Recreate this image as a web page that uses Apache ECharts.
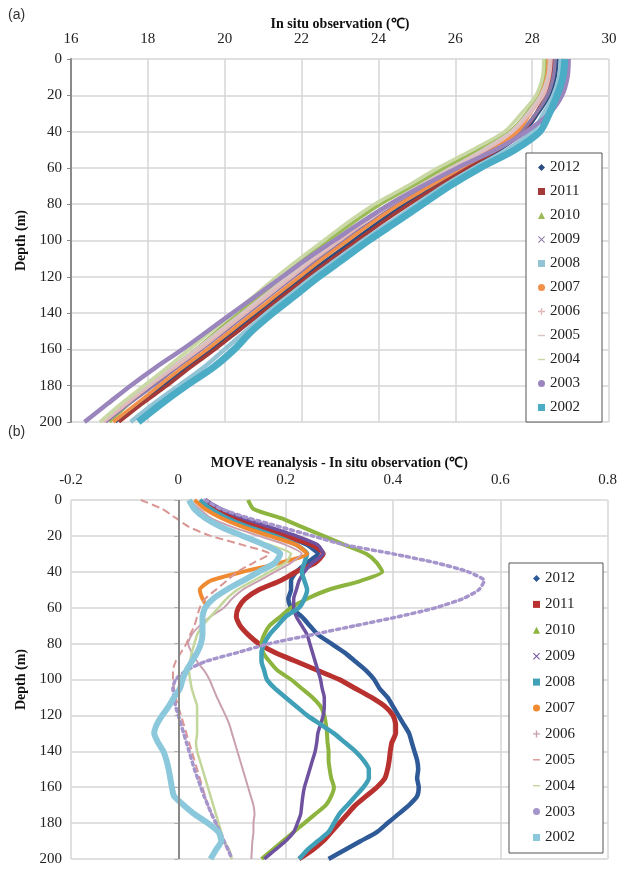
<!DOCTYPE html>
<html>
<head>
<meta charset="utf-8">
<script src="https://cdn.jsdelivr.net/npm/echarts@6/dist/echarts.min.js"></script>
<style>
  html, body { margin: 0; padding: 0; background: #fff; }
  #main { width: 620px; height: 869px; }
</style>
</head>
<body>
<div id="main"></div>
<script>
// years, in legend order
var years = ['2012', '2011', '2010', '2009', '2008', '2007', '2006', '2005', '2004', '2003', '2002'];

// (a) in situ temperature, depth 0..200 every 10 m
var depthA = [0, 10, 20, 30, 40, 50, 60, 70, 80, 90, 100, 110, 120, 130, 140, 150, 160, 170, 180, 190, 200];
var a2012 = [28.65, 28.6, 28.45, 28.15, 27.8, 27.15, 26.3, 25.5, 24.7, 24.0, 23.35, 22.7, 22.05, 21.45, 20.85, 20.25, 19.65, 19.0, 18.4, 17.75, 17.15];
var a2011 = [28.55, 28.5, 28.35, 28.1, 27.75, 27.1, 26.3, 25.55, 24.8, 24.1, 23.45, 22.8, 22.15, 21.55, 20.95, 20.35, 19.75, 19.1, 18.5, 17.85, 17.25];
var a2010 = [28.35, 28.3, 28.15, 27.85, 27.42, 26.62, 25.72, 24.9, 24.05, 23.35, 22.7, 22.05, 21.5, 20.95, 20.38, 19.8, 19.25, 18.65, 18.05, 17.5, 17.0];
var a2009 = [28.6, 28.55, 28.4, 28.1, 27.7, 26.95, 26.1, 25.3, 24.5, 23.8, 23.1, 22.45, 21.8, 21.2, 20.6, 20.0, 19.4, 18.75, 18.15, 17.5, 16.9];
var a2008 = [28.75, 28.7, 28.55, 28.3, 28.0, 27.35, 26.5, 25.7, 25.0, 24.3, 23.6, 22.95, 22.3, 21.7, 21.1, 20.55, 20.0, 19.45, 18.8, 18.15, 17.55];
var a2007 = [28.42, 28.38, 28.22, 27.95, 27.62, 26.98, 26.15, 25.35, 24.55, 23.85, 23.2, 22.55, 21.95, 21.35, 20.75, 20.15, 19.55, 18.9, 18.3, 17.7, 17.1];
var a2006 = [28.5, 28.45, 28.3, 27.95, 27.5, 26.8, 25.95, 25.15, 24.35, 23.65, 23.0, 22.35, 21.75, 21.15, 20.55, 19.95, 19.35, 18.7, 18.05, 17.45, 16.85];
var a2005 = [28.45, 28.4, 28.22, 27.88, 27.45, 26.72, 25.88, 25.05, 24.25, 23.55, 22.9, 22.25, 21.65, 21.05, 20.45, 19.85, 19.25, 18.6, 17.98, 17.35, 16.8];
var a2004 = [28.3, 28.27, 28.1, 27.72, 27.28, 26.45, 25.55, 24.75, 23.9, 23.2, 22.58, 21.95, 21.35, 20.8, 20.22, 19.65, 19.08, 18.5, 17.9, 17.3, 16.75];
var a2003 = [28.95, 28.92, 28.78, 28.45, 27.85, 27.05, 26.05, 25.15, 24.3, 23.55, 22.85, 22.15, 21.5, 20.85, 20.2, 19.55, 18.9, 18.2, 17.55, 16.95, 16.35];
var a2002 = [28.85, 28.8, 28.65, 28.45, 28.2, 27.55, 26.65, 25.85, 25.15, 24.45, 23.75, 23.1, 22.45, 21.85, 21.25, 20.7, 20.25, 19.7, 19.0, 18.35, 17.75];

// (b) MOVE - in situ, depth 0..200 every 5 m
var depthB = [0, 5, 10, 15, 20, 25, 30, 35, 40, 45, 50, 55, 60, 65, 70, 75, 80, 85, 90, 95, 100,
  105, 110, 115, 120, 125, 130, 135, 140, 145, 150, 155, 160, 165, 170, 175, 180, 185, 190, 195, 200];
var b2012 = [0.05, 0.07, 0.11, 0.16, 0.2, 0.24, 0.26, 0.24, 0.22, 0.21, 0.21, 0.205, 0.21, 0.23, 0.245, 0.26, 0.285, 0.31, 0.33, 0.35, 0.365,
  0.375, 0.39, 0.4, 0.41, 0.42, 0.43, 0.435, 0.44, 0.445, 0.447, 0.445, 0.448, 0.445, 0.43, 0.41, 0.39, 0.37, 0.34, 0.31, 0.28];
var b2011 = [0.05, 0.07, 0.1, 0.15, 0.2, 0.25, 0.27, 0.255, 0.22, 0.19, 0.15, 0.125, 0.112, 0.108, 0.115, 0.13, 0.15, 0.18, 0.22, 0.26, 0.3,
  0.33, 0.36, 0.385, 0.4, 0.405, 0.405, 0.398, 0.395, 0.393, 0.39, 0.385, 0.37, 0.35, 0.33, 0.315, 0.3, 0.285, 0.27, 0.25, 0.225];
var b2010 = [0.13, 0.14, 0.19, 0.23, 0.27, 0.31, 0.35, 0.37, 0.38, 0.34, 0.28, 0.24, 0.21, 0.19, 0.17, 0.16, 0.155, 0.158, 0.17, 0.185, 0.21,
  0.23, 0.25, 0.265, 0.272, 0.275, 0.277, 0.278, 0.28, 0.28, 0.282, 0.285, 0.29, 0.285, 0.275, 0.255, 0.235, 0.215, 0.195, 0.175, 0.155];
var b2009 = [0.05, 0.08, 0.12, 0.17, 0.22, 0.26, 0.27, 0.25, 0.235, 0.225, 0.22, 0.215, 0.215, 0.22, 0.23, 0.24, 0.245, 0.25, 0.255, 0.26, 0.265,
  0.268, 0.272, 0.272, 0.27, 0.265, 0.26, 0.258, 0.255, 0.25, 0.245, 0.24, 0.235, 0.232, 0.23, 0.228, 0.222, 0.215, 0.2, 0.18, 0.16];
var b2008 = [0.04, 0.06, 0.09, 0.13, 0.18, 0.22, 0.24, 0.235, 0.23, 0.235, 0.24, 0.235, 0.225, 0.2, 0.185, 0.17, 0.16, 0.155, 0.155, 0.16, 0.165,
  0.18, 0.2, 0.22, 0.24, 0.265, 0.29, 0.31, 0.33, 0.345, 0.355, 0.355, 0.345, 0.33, 0.315, 0.3, 0.29, 0.28, 0.26, 0.24, 0.225];
var b2007 = [0.03, 0.05, 0.08, 0.12, 0.17, 0.22, 0.24, 0.19, 0.12, 0.06, 0.04, 0.045, 0.055];
var b2006 = [0.02, 0.04, 0.06, 0.1, 0.15, 0.2, 0.23, 0.21, 0.18, 0.15, 0.12, 0.1, 0.085, 0.06, 0.04, 0.025, 0.018, 0.025, 0.035, 0.048, 0.058,
  0.065, 0.072, 0.08, 0.088, 0.095, 0.1, 0.105, 0.11, 0.115, 0.12, 0.125, 0.13, 0.135, 0.14, 0.142, 0.14, 0.14, 0.138, 0.137, 0.136];
var b2005 = [-0.07, -0.03, -0.005, 0.02, 0.06, 0.12, 0.17, 0.14, 0.11, 0.09, 0.07, 0.05, 0.04, 0.035, 0.03, 0.022, 0.015, 0.005, -0.005, -0.01, -0.01,
  -0.008, -0.005, 0.0, 0.005, 0.01, 0.015, 0.02, 0.025, 0.03, 0.035, 0.04, 0.045, 0.05, 0.055, 0.062, 0.07, 0.078, 0.085, 0.092, 0.1];
var b2004 = [0.02, 0.03, 0.05, 0.08, 0.12, 0.17, 0.21, 0.2, 0.17, 0.14, 0.11, 0.09, 0.075, 0.06, 0.045, 0.035, 0.03, 0.025, 0.022, 0.02, 0.022,
  0.025, 0.03, 0.035, 0.035, 0.035, 0.035, 0.033, 0.035, 0.04, 0.045, 0.05, 0.055, 0.06, 0.065, 0.07, 0.075, 0.08, 0.085, 0.095, 0.1];
var b2003 = [0.05, 0.08, 0.13, 0.19, 0.25, 0.31, 0.4, 0.48, 0.54, 0.57, 0.56, 0.53, 0.48, 0.41, 0.33, 0.25, 0.17, 0.11, 0.05, 0.015, -0.005,
  -0.01, -0.008, -0.005, 0.0, 0.005, 0.01, 0.015, 0.02, 0.025, 0.03, 0.036, 0.042, 0.048, 0.055, 0.062, 0.07, 0.078, 0.085, 0.093, 0.1];
var b2002 = [0.02, 0.03, 0.05, 0.08, 0.12, 0.16, 0.19, 0.18, 0.15, 0.12, 0.09, 0.065, 0.05, 0.045, 0.045, 0.045, 0.042, 0.035, 0.025, 0.015, 0.008,
  0.003, -0.008, -0.018, -0.03, -0.04, -0.045, -0.038, -0.028, -0.022, -0.018, -0.015, -0.012, -0.008, 0.01, 0.03, 0.055, 0.075, 0.08, 0.07, 0.06];

var seriesA = [a2012, a2011, a2010, a2009, a2008, a2007, a2006, a2005, a2004, a2003, a2002];
var seriesB = [b2012, b2011, b2010, b2009, b2008, b2007, b2006, b2005, b2004, b2003, b2002];

// styling per year
var colorsA = ['#2c4d80', '#a33a38', '#9bbb59', '#8c7aa8', '#93c4d6', '#f0904a', '#e3b8b8', '#d9c3c3', '#c9d8a4', '#9a86bd', '#4bacc6'];
var colorsB = ['#2f5a98', '#b8312f', '#8db43e', '#6e52a0', '#3fa0b8', '#f08a30', '#c9a0b0', '#d99694', '#c3d69b', '#a595cc', '#8cc8dc'];
var widthsA = [3.5, 3.5, 3.5, 3.5, 4.5, 3.5, 3, 3, 3.5, 4.5, 7];
var widthsB = [4.5, 5, 4, 3.5, 4.5, 4, 2, 2, 2.5, 3.5, 6];
var icons = [
  'diamond', 'rect', 'triangle',
  'path://M1,0L5,4L9,0L10,1L6,5L10,9L9,10L5,6L1,10L0,9L4,5L0,1Z',
  'rect', 'circle',
  'path://M4,0H6V4H10V6H6V10H4V6H0V4H4Z',
  'path://M0,4H10V6H0Z', 'path://M0,4H10V6H0Z',
  'circle', 'rect'
];

var serif = '"Liberation Serif", "Times New Roman", serif';

function pairs(vals, depths) {
  var out = [];
  for (var i = 0; i < vals.length; i++) out.push([vals[i], depths[i]]);
  return out;
}

var series = [];
years.forEach(function (y, i) {
  series.push({
    name: y, type: 'line', xAxisIndex: 0, yAxisIndex: 0,
    data: pairs(seriesA[i], depthA), smooth: 0.3,
    symbol: 'none', color: colorsA[i],
    lineStyle: { width: widthsA[i], color: colorsA[i] },
    emphasis: { disabled: true }, animation: false
  });
});
years.forEach(function (y, i) {
  var s = {
    name: y, type: 'line', xAxisIndex: 1, yAxisIndex: 1,
    data: pairs(seriesB[i], depthB), smooth: 0.2,
    symbol: 'none', color: colorsB[i],
    lineStyle: { width: widthsB[i], color: colorsB[i] },
    emphasis: { disabled: true }, animation: false
  };
  if (y === '2003') { s.lineStyle.type = [3, 4]; s.lineStyle.cap = 'round'; }
  if (y === '2005') s.lineStyle.type = 'dashed';
  if (y === '2012') {
    s.markLine = {
      silent: true, symbol: 'none', label: { show: false },
      lineStyle: { color: '#8a8a8a', width: 2, type: 'solid' },
      data: [{ xAxis: 0 }]
    };
  }
  series.push(s);
});

function legendData(colors) {
  return years.map(function (y, i) {
    return { name: y, icon: icons[i], itemStyle: { color: colors[i] } };
  });
}

var gridLine = { show: true, lineStyle: { color: '#d6d6d6', width: 1.5 } };
var tickText = { fontFamily: serif, fontSize: 15, color: '#222' };
var nameText = { fontFamily: serif, fontSize: 14, fontWeight: 'bold', color: '#111' };

var myChart = echarts.init(document.getElementById('main'), null, { renderer: 'canvas' });
var option = {
  backgroundColor: '#fff',
  animation: false,
  graphic: [
    { type: 'text', left: 8, top: 8, style: { text: '(a)', font: '14px "Liberation Sans", Arial, sans-serif', fill: '#333' } },
    { type: 'text', left: 8, top: 425, style: { text: '(b)', font: '14px "Liberation Sans", Arial, sans-serif', fill: '#333' } }
  ],
  grid: [
    { left: 71, top: 59, width: 538, height: 363 },
    { left: 71, top: 500, width: 537, height: 359 }
  ],
  xAxis: [
    {
      gridIndex: 0, type: 'value', position: 'top', min: 16, max: 30, interval: 2,
      name: 'In situ observation (℃)', nameLocation: 'middle', nameGap: 28, nameTextStyle: nameText,
      axisLine: { show: false }, axisTick: { show: false },
      axisLabel: Object.assign({ margin: 12 }, tickText), splitLine: gridLine
    },
    {
      gridIndex: 1, type: 'value', position: 'top', min: -0.2, max: 0.8, interval: 0.2,
      name: 'MOVE reanalysis - In situ observation (℃)', nameLocation: 'middle', nameGap: 30, nameTextStyle: nameText,
      axisLine: { show: false }, axisTick: { show: false },
      axisLabel: Object.assign({ margin: 12 }, tickText), splitLine: gridLine
    }
  ],
  yAxis: [
    {
      gridIndex: 0, type: 'value', inverse: true, min: 0, max: 200, interval: 20,
      name: 'Depth (m)', nameLocation: 'middle', nameGap: 41, nameRotate: 90, nameTextStyle: nameText,
      axisLine: { show: true, lineStyle: { color: '#8a8a8a', width: 2 } },
      axisTick: { show: true, length: 4, lineStyle: { color: '#8a8a8a' } },
      axisLabel: Object.assign({ margin: 9 }, tickText), splitLine: gridLine
    },
    {
      gridIndex: 1, type: 'value', inverse: true, min: 0, max: 200, interval: 20,
      name: 'Depth (m)', nameLocation: 'middle', nameGap: 41, nameRotate: 90, nameTextStyle: nameText,
      axisLine: { show: false },
      axisTick: { show: true, length: 4, lineStyle: { color: '#b0b0b0' } },
      axisLabel: Object.assign({ margin: 9 }, tickText), splitLine: gridLine
    }
  ],
  legend: [
    {
      data: legendData(colorsA), orient: 'vertical', left: 526, top: 153,
      itemWidth: 7, itemHeight: 7, itemGap: 9,
      padding: [7, 22, 7, 12], backgroundColor: '#fff', borderColor: '#555', borderWidth: 1,
      textStyle: { fontFamily: serif, fontSize: 15, color: '#222' },
      selectedMode: false
    },
    {
      data: legendData(colorsB), orient: 'vertical', left: 509, top: 563,
      itemWidth: 7, itemHeight: 7, itemGap: 10.9,
      padding: [8, 28, 8, 24], backgroundColor: '#fff', borderColor: '#555', borderWidth: 1,
      textStyle: { fontFamily: serif, fontSize: 15, color: '#222' },
      selectedMode: false
    }
  ],
  series: series
};
myChart.setOption(option);
</script>
</body>
</html>
